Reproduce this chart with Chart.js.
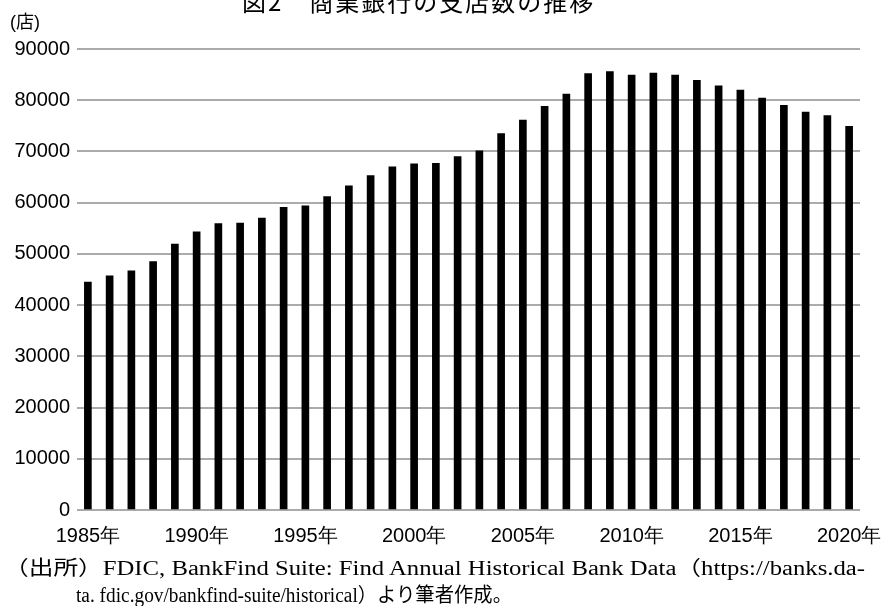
<!DOCTYPE html>
<html lang="ja">
<head>
<meta charset="utf-8">
<title>図2 商業銀行の支店数の推移</title>
<script src="https://cdn.jsdelivr.net/npm/chart.js@4.4.1/dist/chart.umd.min.js"></script>
<style>
    html, body {
        margin: 0;
        padding: 0;
        background: #fff;
    }
    #wrap {
        position: relative;
        width: 888px;
        height: 606px;
        overflow: hidden;
    }
    #chart {
        position: absolute;
        left: 0;
        top: 0;
    }
    .txt {
        position: absolute;
        white-space: nowrap;
        color: #000;
    }
    #title {
        left: 242px;
        top: -17px;
        font: 24px "Noto Sans CJK JP", sans-serif;
        letter-spacing: 2px;
    }
    #unit {
        left: 10px;
        top: 7px;
        font: 18px "Liberation Sans", "Noto Sans CJK JP", sans-serif;
    }
    .note {
        font: 20px "Liberation Serif", "Noto Sans CJK JP", serif;
        transform-origin: 0 50%;
    }
    #note1 { left: 4px; top: 552px; }
    #note2 { left: 76px; top: 579px; }
</style>
</head>
<body>
<div id="wrap">
    <canvas id="chart" width="888" height="606"></canvas>
    <div class="txt" id="title">図2　商業銀行の支店数の推移</div>
    <div class="txt" id="unit">(店)</div>
    <div class="txt note" id="note1">（出所）FDIC, BankFind Suite: Find Annual Historical Bank Data（https://banks.da-</div>
    <div class="txt note" id="note2">ta. fdic.gov/bankfind-suite/historical）より筆者作成。</div>
</div>
<script>
// Years on the x axis
const years = [
    1985, 1986, 1987, 1988, 1989, 1990, 1991, 1992, 1993, 1994,
    1995, 1996, 1997, 1998, 1999, 2000, 2001, 2002, 2003, 2004,
    2005, 2006, 2007, 2008, 2009, 2010, 2011, 2012, 2013, 2014,
    2015, 2016, 2017, 2018, 2019, 2020
];

// Number of branches
const branches = [
    44500, 45700, 46700, 48500, 51900, 54300, 55900, 56000, 57000, 59100,
    59400, 61200, 63300, 65300, 67000, 67600, 67700, 69000, 70100, 73500,
    76100, 78800, 81200, 85200, 85600, 84900, 85300, 84900, 83900, 82800,
    82000, 80400, 79000, 77700, 77000, 74900
];

// Y axis range
const yMin = 0;
const yMax = 90000;
const yStep = 10000;

// Stretch a footnote line horizontally so it ends where the original does
function fitNote(id, targetWidth) {
    const el = document.getElementById(id);
    const w = el.getBoundingClientRect().width;
    el.style.transform = 'scaleX(' + (targetWidth / w) + ')';
}

function drawChart() {
    const ctx = document.getElementById('chart').getContext('2d');
    const tickFont = { family: 'Liberation Sans', size: 20 };

    new Chart(ctx, {
        type: 'bar',
        data: {
            labels: years.map(String),
            datasets: [{
                label: '支店数',
                data: branches,
                backgroundColor: '#000',
                borderWidth: 0,
                barThickness: 7
            }]
        },
        options: {
            responsive: false,
            animation: false,
            layout: {
                padding: { top: 49, right: 28, left: 0, bottom: 0 }
            },
            scales: {
                x: {
                    grid: { display: false },
                    border: { display: false },
                    ticks: {
                        color: '#000',
                        font: tickFont,
                        autoSkip: false,
                        maxRotation: 0,
                        padding: 6,
                        callback: function(value, index) {
                            const y = years[index];
                            return y % 5 === 0 ? y + '年' : '';
                        }
                    },
                    afterFit: function(scale) {
                        scale.height = 96;
                    }
                },
                y: {
                    min: yMin,
                    max: yMax,
                    border: { display: false },
                    grid: {
                        color: '#ababab',
                        lineWidth: 2,
                        drawTicks: false
                    },
                    ticks: {
                        stepSize: yStep,
                        color: '#000',
                        font: tickFont,
                        padding: 7,
                        callback: v => String(v)
                    },
                    afterFit: function(scale) {
                        scale.width = 77;
                    }
                }
            },
            plugins: {
                legend: { display: false },
                title: { display: false },
                tooltip: { enabled: false }
            }
        }
    });
}

document.addEventListener('DOMContentLoaded', function() {
    fitNote('note1', 861);
    fitNote('note2', 436);
    drawChart();
});
</script>
</body>
</html>
